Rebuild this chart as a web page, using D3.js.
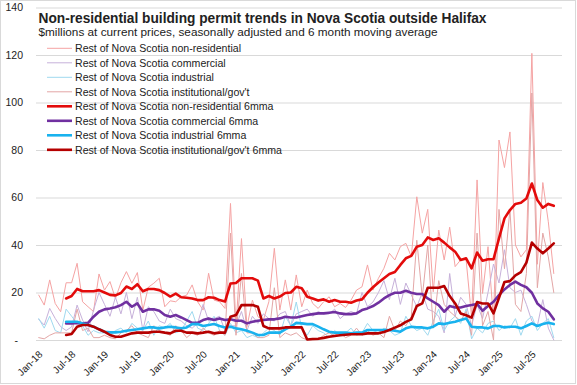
<!DOCTYPE html>
<html>
<head>
<meta charset="utf-8">
<script src="https://cdn.jsdelivr.net/npm/d3@7"></script>
<style>
html,body{margin:0;padding:0;background:#fff;}
svg{display:block;}
text{font-family:"Liberation Sans",Arial,sans-serif;fill:#222;}
</style>
</head>
<body>
<svg id="chart" width="577" height="385"></svg>
<script>
// ---------- DATA ----------
const startMonth = new Date(2018, 0, 1);
const endMonth = new Date(2025, 11, 1); // exclusive -> Jan-18 .. Nov-25
const tickLabels = ["Jan-18","Jul-18","Jan-19","Jul-19","Jan-20","Jul-20","Jan-21","Jul-21",
  "Jan-22","Jul-22","Jan-23","Jul-23","Jan-24","Jul-24","Jan-25","Jul-25"];
const yTicks = [0,20,40,60,80,100,120,140];

const seriesNames = [
  "Rest of Nova Scotia non-residential",
  "Rest of Nova Scotia commercial",
  "Rest of Nova Scotia industrial",
  "Rest of Nova Scotia institutional/gov't",
  "Rest of Nova Scotia non-residential 6mma",
  "Rest of Nova Scotia commercial 6mma",
  "Rest of Nova Scotia industrial 6mma",
  "Rest of Nova Scotia institutional/gov't 6mma"
];

const nonres = [
  18.9,14.7,25.3,15.4,11.9,24.1,
  24.1,32.3,16.1,14.0,12.0,27.8,
  21.0,24.6,17.5,24.1,28.8,23.9,
  28.4,12.6,22.2,23.9,26.0,14.0,
  16.5,16.1,18.2,18.9,23.2,16.1,
  12.6,28.1,16.8,16.1,13.3,57.5,
  5.6,42.7,5.6,16.8,9.8,8.4,
  16.1,38.6,12.6,25.3,12.6,27.4,
  14.0,21.0,15.4,13.3,16.1,18.2,
  14.0,15.4,13.7,16.8,21.0,22.4,
  31.6,21.0,26.0,30.2,36.5,33.7,
  39.3,40.7,35.1,60.3,45.0,55.0,
  20.3,46.3,33.7,47.5,30.9,33.7,
  33.7,9.8,67.4,19.6,39.3,8.4,
  84.2,72.6,87.6,40.0,35.0,38.0,
  120.7,31.9,66.3,49.8,28.0
];
const commercial = [
  8.7,6.3,13.3,9.1,5.6,4.0,
  5.5,14.7,8.4,3.5,12.6,20.0,
  15.0,10.0,18.0,11.0,20.0,9.0,
  18.0,4.0,14.0,12.0,8.0,7.0,
  13.0,9.0,8.0,6.0,5.0,7.0,
  15.0,8.0,9.0,10.0,4.0,6.0,
  6.0,12.0,4.0,10.0,7.0,11.0,
  9.0,8.0,11.0,12.0,6.0,11.0,
  12.0,13.0,10.0,12.0,11.0,11.0,
  13.0,9.0,11.0,12.0,11.0,20.0,
  14.0,16.0,20.0,25.0,17.0,26.0,
  15.0,24.0,19.0,14.0,20.0,13.0,
  12.0,10.0,3.0,28.0,10.0,18.0,
  15.0,6.0,15.0,9.0,20.0,32.0,
  24.0,38.0,22.0,20.0,21.0,15.0,
  8.0,6.0,17.0,5.0,0.0
];
const industrial = [
  9.0,5.0,10.0,4.0,3.0,13.0,
  10.0,7.0,6.0,2.0,4.0,3.0,
  3.0,2.0,4.0,5.0,3.0,7.0,
  5.0,4.0,8.0,2.0,6.0,5.0,
  7.0,3.0,4.0,8.0,12.0,5.0,
  4.0,7.0,10.0,4.0,2.0,7.0,
  3.0,4.0,1.0,2.0,1.0,3.0,
  5.0,4.0,2.0,10.0,6.0,16.0,
  5.0,2.0,6.0,4.0,3.0,1.0,
  4.0,2.0,3.0,5.0,2.0,3.0,
  7.0,4.0,3.0,5.0,4.0,2.0,
  3.0,10.0,6.0,4.0,5.0,2.0,
  8.0,13.0,4.0,8.0,10.0,7.0,
  13.0,0.5,5.0,3.0,7.0,8.0,
  4.0,6.0,5.0,9.0,2.0,8.0,
  10.0,4.0,7.0,9.0,1.0
];
const institutional = [
  1.0,0.5,2.0,3.0,3.0,3.0,
  3.0,13.0,4.0,5.0,1.0,1.0,
  2.0,1.0,0.5,3.0,4.0,6.0,
  3.0,2.0,1.0,6.0,4.0,3.0,
  2.0,6.0,4.0,1.0,3.0,2.0,
  5.0,3.0,2.0,4.0,2.0,45.0,
  2.0,28.0,3.0,3.0,1.0,1.0,
  2.0,22.0,1.0,3.0,2.0,3.0,
  1.0,0.0,0.0,0.0,2.0,3.0,
  2.0,3.0,1.0,2.0,5.0,2.0,
  4.0,2.0,3.0,1.0,10.0,4.0,
  8.0,6.0,10.0,42.0,18.0,40.0,
  5.0,25.0,15.0,12.0,10.0,8.0,
  12.0,2.0,45.0,6.0,12.0,0.0,
  55.0,30.0,55.0,15.0,12.0,28.0,
  104.0,22.0,45.0,35.0,20.0
];
const nonres6 = [
  null,null,null,null,null,17.5,
  18.5,21.5,20.5,20.5,20.5,21.0,
  20.0,19.0,18.8,19.8,22.5,21.5,
  23.5,20.5,21.5,21.5,21.0,19.8,
  18.3,19.5,18.0,17.8,17.5,16.8,
  16.8,18.0,17.8,16.8,16.2,23.8,
  24.0,26.0,26.0,26.0,25.0,17.5,
  18.5,17.5,18.3,19.8,20.0,22.4,
  21.8,18.2,17.5,16.6,17.1,16.1,
  16.8,16.1,16.1,15.7,16.6,17.1,
  19.9,22.2,24.2,26.0,27.8,28.6,
  31.6,34.4,35.4,39.3,40.0,43.2,
  42.1,42.8,41.0,39.0,37.2,33.7,
  34.4,30.2,36.8,33.4,34.0,34.0,
  42.8,51.2,54.7,57.3,57.8,59.6,
  65.9,58.9,55.7,57.3,56.5
];
const commercial6 = [
  null,null,null,null,null,7.0,
  7.0,7.2,7.0,7.2,9.8,11.9,
  12.9,13.3,13.8,14.7,16.1,14.0,
  15.4,11.9,12.9,12.9,12.3,10.5,
  9.8,10.5,9.5,8.4,7.2,7.2,
  8.4,9.1,8.4,9.1,8.4,8.7,
  8.1,8.1,7.0,7.7,8.1,8.4,
  8.7,8.7,9.1,9.8,9.5,9.5,
  10.0,10.5,10.9,11.2,11.2,11.5,
  11.8,11.2,10.9,10.9,11.2,12.6,
  13.3,14.3,15.7,17.5,18.9,19.9,
  19.9,20.7,19.9,19.4,19.4,17.5,
  16.1,14.7,11.9,14.3,13.7,13.7,
  14.3,14.7,15.2,12.3,14.3,16.1,
  18.9,21.3,23.2,24.6,23.2,22.2,
  19.9,15.4,13.3,11.9,8.7
];
const industrial6 = [
  null,null,null,null,null,7.7,
  7.7,7.7,7.0,6.3,5.6,4.5,
  3.5,3.2,3.2,3.5,3.9,4.2,
  4.5,4.9,5.3,5.3,4.9,5.3,
  5.6,5.3,4.9,5.3,6.7,6.7,
  5.9,6.3,6.7,5.9,5.3,5.6,
  4.9,4.5,3.9,3.1,2.1,2.1,
  3.1,3.1,3.1,4.5,5.6,7.2,
  7.0,6.7,6.7,5.6,4.5,3.5,
  3.1,3.1,3.1,2.8,3.1,3.1,
  4.2,4.2,4.2,4.2,4.2,3.9,
  3.5,4.9,5.6,5.3,5.3,4.9,
  5.6,7.0,6.7,7.3,7.7,8.4,
  9.1,5.6,5.3,5.3,4.9,5.9,
  5.9,5.3,5.6,5.6,4.9,5.9,
  7.0,5.9,6.7,7.3,6.7
];
const institutional6 = [
  null,null,null,null,null,2.1,
  2.5,5.6,6.3,6.3,5.6,4.5,
  3.5,2.1,1.4,1.4,2.1,2.8,
  3.1,3.1,3.1,3.5,3.5,3.1,
  2.8,3.9,3.9,3.1,3.1,2.8,
  3.1,3.5,2.8,3.1,3.1,9.8,
  10.5,14.7,14.7,14.7,14.0,5.9,
  4.9,4.9,4.9,5.3,5.3,5.3,
  5.3,0.2,0.4,0.5,0.9,1.4,
  1.7,2.0,2.2,2.4,2.4,2.4,
  2.8,2.8,2.8,3.4,4.2,5.2,
  6.2,7.6,8.7,14.3,15.4,22.0,
  22.0,22.0,22.7,18.5,15.4,11.2,
  10.4,9.4,16.0,15.4,15.4,11.2,
  17.8,24.4,24.8,27.2,28.6,32.6,
  41.0,38.5,36.5,38.5,40.7
];

// ---------- STYLES ----------
const seriesData = [nonres, commercial, industrial, institutional, nonres6, commercial6, industrial6, institutional6];
const colors = ["#f5a3a3","#c7b1da","#9fd9ef","#e3a6a6","#e30b0b","#7030a0","#19b2ee","#b50000"];
const widths = [1,1,1,1,2.6,2.6,2.6,2.6];

// ---------- CHART ----------
(function draw(){
const W = 577, H = 385;
const svg = d3.select("#chart");
svg.append("rect").attr("x",0.5).attr("y",0.5).attr("width",W-2).attr("height",H-2)
  .attr("fill","#fff").attr("stroke","#d9d9d9");

const months = d3.timeMonth.range(startMonth, endMonth);
const fmt = d3.timeFormat("%b-%y");
const labels = months.map(fmt);
const nSlots = months.length + 1;

const pLeft = 36, pRight = 562, pTop = 7.5, pBottom = 340;
const x = d3.scaleLinear().domain([-0.5, nSlots - 0.5]).range([pLeft, pRight]);
const y = d3.scaleLinear().domain([0, 140]).range([pBottom, pTop]);

// gridlines + y labels
const yAxis = d3.axisLeft(y).tickValues(yTicks).tickSize(-(pRight-pLeft))
  .tickFormat(d => d === 0 ? "-" : d3.format("d")(d)).tickPadding(13);
const gy = svg.append("g").attr("transform",`translate(${pLeft},0)`).call(yAxis);
gy.select(".domain").remove();
gy.selectAll("line").attr("stroke","#d9d9d9").attr("stroke-width",1);
gy.selectAll("text").attr("font-size","10.5px").attr("fill","#333")
  .attr("font-family","Liberation Sans, Arial, sans-serif")
  .attr("dx", d => d === 0 ? -5 : 0);

// x labels
const tickIdx = tickLabels.map(l => labels.indexOf(l));
const xAxis = d3.axisBottom(x).tickValues(tickIdx).tickSize(0)
  .tickFormat((d,i) => tickLabels[i]);
const gx = svg.append("g").attr("transform",`translate(0,${pBottom})`).call(xAxis);
gx.select(".domain").remove();
gx.selectAll("text").attr("font-size","10px").attr("fill","#333")
  .attr("font-family","Liberation Sans, Arial, sans-serif")
  .attr("text-anchor","end").attr("dy",null).attr("y",null)
  .attr("transform","translate(4,15) rotate(-45)");

// lines
const line = d3.line().defined(d => d != null).x((d,i) => x(i)).y(d => y(d));
const gl = svg.append("g");
seriesData.forEach((s, k) => {
  gl.append("path").datum(s).attr("d", line)
    .attr("fill","none").attr("stroke",colors[k]).attr("stroke-width",widths[k])
    .attr("stroke-linejoin","round").attr("stroke-linecap","round");
});

// title
svg.append("text").attr("x",38.5).attr("y",22.5)
  .attr("font-size","15px").attr("font-weight","bold").attr("fill","#111")
  .attr("font-family","Liberation Sans Narrow, Liberation Sans, Arial, sans-serif")
  .attr("textLength",448).attr("lengthAdjust","spacingAndGlyphs")
  .text("Non-residential building permit trends in Nova Scotia outside Halifax");
svg.append("text").attr("x",38.5).attr("y",36)
  .attr("font-size","11.5px").attr("fill","#222")
  .attr("textLength",399).attr("lengthAdjust","spacingAndGlyphs")
  .text("$millions at current prices, seasonally adjusted and 6 month moving average");

// legend
const lg = svg.append("g");
seriesNames.forEach((name, k) => {
  const yy = 48.3 + k * 14.5;
  lg.append("line").attr("x1",47).attr("x2",72).attr("y1",yy).attr("y2",yy)
    .attr("stroke",colors[k]).attr("stroke-width",widths[k] > 1 ? 2.6 : 1);
  lg.append("text").attr("x",75).attr("y",yy).attr("dy","0.35em")
    .attr("font-size","10.6px").attr("fill","#222").text(name);
});
})();
</script>
</body>
</html>
